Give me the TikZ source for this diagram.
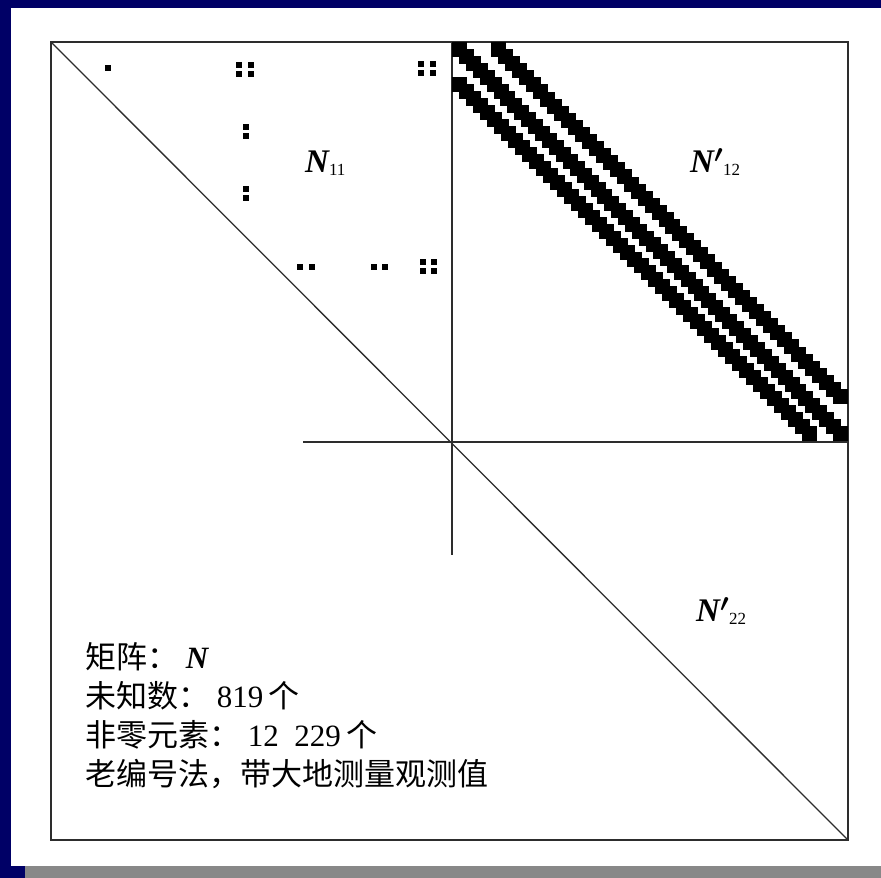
\documentclass[tikz,border=0pt]{standalone}
\usepackage{amsmath}
\usepackage{fontspec}
\setmainfont{Liberation Serif}
\newfontfamily\cjk{Noto Sans CJK SC}
\usepackage{xcolor}
\definecolor{slidenavy}{RGB}{0,0,102}
\definecolor{slidegray}{RGB}{136,136,136}
\definecolor{ruledark}{RGB}{45,45,45}
\newcommand{\bN}{{\bfseries\itshape N}}
\newcommand{\sbx}[1]{\raisebox{-3pt}{\fontsize{17}{17}\selectfont #1}}

\begin{document}
\begin{tikzpicture}[
    x=1pt, y=-1pt,
    frameline/.style={draw=ruledark, line width=1.3pt},
    blocklabel/.style={anchor=base west, inner sep=0pt, font=\fontsize{33}{33}\selectfont},
    info/.style={anchor=base west, inner sep=0pt, font=\fontsize{31}{31}\selectfont}
]
\useasboundingbox (0,0) rectangle (881,878);
\fill[slidenavy] (0,0) rectangle (881,878);
\fill[white] (11,8) rectangle (881,866);
\fill[slidegray] (25,866) rectangle (881,878);

\coordinate (tl) at (51,42);
\coordinate (br) at (848,840);
\coordinate (vtop) at (452,42);
\coordinate (vbot) at (452,555);
\coordinate (hleft) at (303,442);
\coordinate (hright) at (848,442);
\draw[frameline] (tl) rectangle (br);
\draw[frameline] (tl) -- (br);
\draw[frameline] (vtop) -- (vbot);
\draw[frameline] (hleft) -- (hright);

\foreach \xa/\ya/\xb/\yb/\n in {452/42/833/426/55, 491/42/833/389/49, 452/77/802/426/50}{
    \foreach \i in {0,...,\n}{
        \fill ({\xa+(\xb-\xa)/\n*\i},{\ya+(\yb-\ya)/\n*\i}) rectangle ++(15,15);
    }
}

\foreach \x/\y in {107.7/68, 238.7/64.7, 251/64.7, 238.7/74, 251/74,
    421/63.5, 433/63.5, 421/72.5, 433/72.5,
    246.3/126.7, 246.3/136, 246.3/188.7, 246.3/198.3,
    300/267, 311.7/267, 374/267, 385/267,
    422.7/262.3, 434/262.3, 422.7/270.7, 434/270.7}{
    \fill ({\x-3},{\y-3}) rectangle ++(6,6);
}

\node[blocklabel] (n11) at (305,172) {\bN\sbx{11}};
\node[blocklabel] (n12) at (690,172) {\bN$^{\boldsymbol{\prime}}$\sbx{12}};
\node[blocklabel] (n22) at (696,621) {\bN$^{\boldsymbol{\prime}}$\sbx{22}};

\node[info] (matrix) at (85,668) {{\cjk 矩阵：}\ \bN};
\node[info] (unknowns) at (85,707) {{\cjk 未知数：}\ 819\,{\cjk 个}};
\node[info] (nonzero) at (85,746) {{\cjk 非零元素：}\ 12\enspace 229\,{\cjk 个}};
\node[info] (method) at (85,785) {{\cjk 老编号法，带大地测量观测值}};
\end{tikzpicture}
\end{document}
